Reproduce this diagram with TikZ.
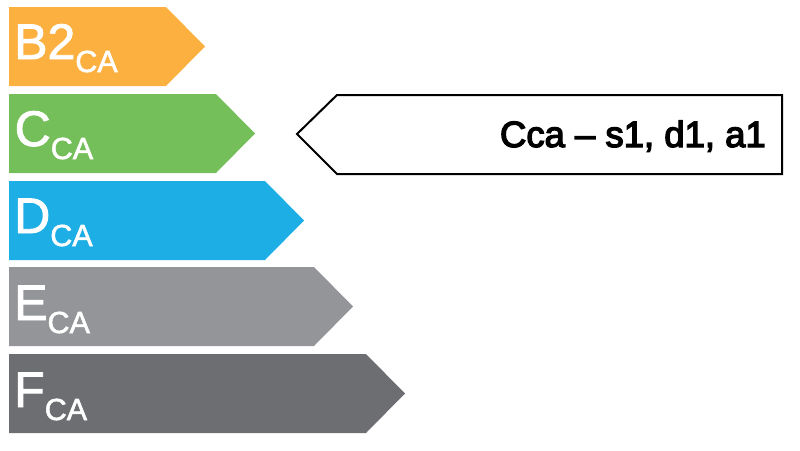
\documentclass[tikz,border=0pt]{standalone}
\usepackage{fontspec}
\setmainfont{Liberation Sans}
\newfontface\medfont{Liberation Sans}[FakeBold=1.8]
\newfontface\calfont{Liberation Sans}[FakeBold=3.6]
\definecolor{cB}{RGB}{251,176,64}
\definecolor{cC}{RGB}{117,191,90}
\definecolor{cD}{RGB}{28,174,228}
\definecolor{cE}{RGB}{147,149,152}
\definecolor{cF}{RGB}{109,110,113}
\newcommand\subca[1]{\raisebox{-13pt}{\fontsize{30.5}{30}\selectfont #1}}
\begin{document}
\begin{tikzpicture}[x=1pt,y=-1pt,
  lbl/.style={anchor=base west,inner sep=0pt,text=white,font=\medfont\fontsize{50}{60}\selectfont},
  callout/.style={draw=black,line width=2pt,fill=white,line join=miter}]
\useasboundingbox (0,0) rectangle (800,450);
% bands
\fill[cB] (9,7) -- (166,7) -- (205,46.5) -- (166,86) -- (9,86) -- cycle;
\fill[cC] (9,94) -- (216,94) -- (255,133.5) -- (216,173) -- (9,173) -- cycle;
\fill[cD] (9,181) -- (265,181) -- (304,220.5) -- (265,260) -- (9,260) -- cycle;
\fill[cE] (9,267) -- (314,267) -- (353,306.5) -- (314,346) -- (9,346) -- cycle;
\fill[cF] (9,354) -- (366,354) -- (405,393.5) -- (366,433) -- (9,433) -- cycle;
\node[lbl] (lb) at (14,59) {B2\subca{CA}};
\node[lbl] (lc) at (14.5,146) {C\subca{CA}};
\node[lbl] (ld) at (14,233) {D\subca{CA}};
\node[lbl] (le) at (14,320) {E\subca{CA}};
\node[lbl] (lf) at (14,407) {F\subca{CA}};
% callout
\draw[callout] (297,134) -- (337,95) -- (782,95) -- (782,174) -- (337,174) -- cycle;
\node[anchor=base east,inner sep=0pt,font=\calfont\fontsize{36.5}{42}\selectfont] (ct) at (766,147) {Cca – s1, d1, a1};
\end{tikzpicture}
\end{document}
